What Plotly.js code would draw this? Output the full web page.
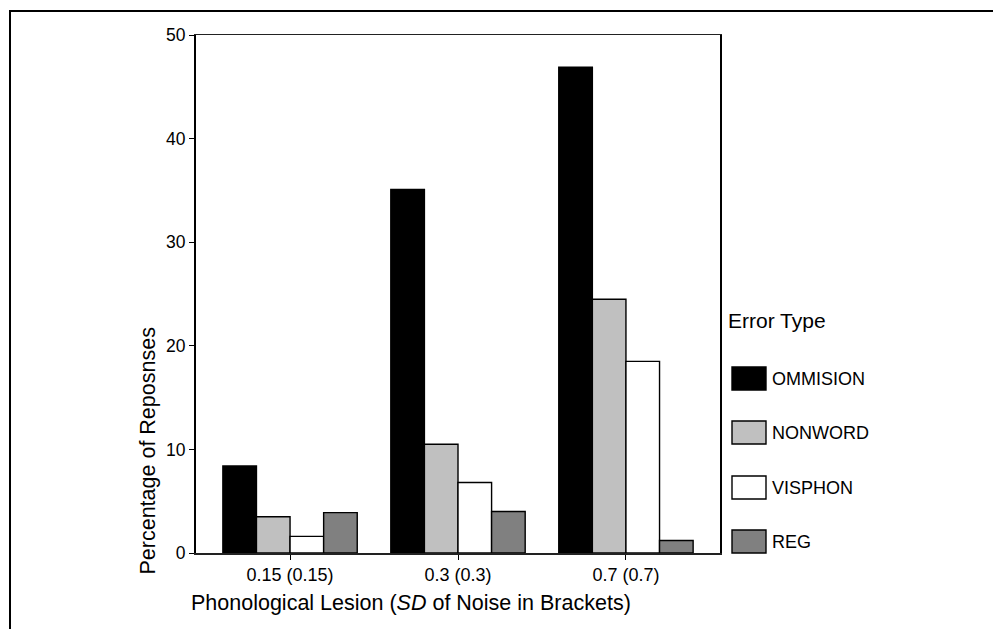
<!DOCTYPE html>
<html>
<head>
<meta charset="utf-8">
<script src="https://cdn.plot.ly/plotly-3.0.1.min.js"></script>
<style>html,body{margin:0;padding:0;background:#fff;}#chart{width:993px;height:629px;}</style>
</head>
<body>
<div id="chart"></div>
<script>
// ---- data ----
var categories = ["0.15 (0.15)", "0.3 (0.3)", "0.7 (0.7)"];
var seriesNames = ["OMMISION", "NONWORD", "VISPHON", "REG"];
var ommision = [8.4, 35.1, 46.9];
var nonword  = [3.5, 10.5, 24.5];
var visphon  = [1.6, 6.8, 18.5];
var reg      = [3.9, 4.0, 1.2];
var seriesColors = ["#000000", "#c0c0c0", "#ffffff", "#808080"];
var yTicks = [0, 10, 20, 30, 40, 50];
var legendTitle = "Error Type";
var xTitle = "Phonological Lesion (<i>SD</i> of Noise in Brackets)";
var yTitle = "Percentage of Reposnses";

var seriesValues = [ommision, nonword, visphon, reg];

// ---- layout geometry helpers (pixel -> paper) ----
var W = 993, H = 629;
var L = 196, R = 720, T = 35, B = 553;
function px(x) { return (x - L) / (R - L); }
function py(y) { return (B - y) / (B - T); }

var FONT = "Liberation Sans, Arial, sans-serif";

var traces = seriesNames.map(function (name, i) {
  return {
    type: "bar",
    name: name,
    x: categories,
    y: seriesValues[i],
    marker: { color: seriesColors[i], line: { color: "#000000", width: 1.4 } },
    showlegend: false,
    hoverinfo: "x+y+name"
  };
});

var shapes = [
  // outer frame
  { type: "rect", xref: "paper", yref: "paper",
    x0: px(10), x1: px(1010), y0: py(11), y1: py(660),
    line: { color: "#000", width: 2 }, fillcolor: "rgba(0,0,0,0)" }
];
var annotations = [
  { xref: "paper", yref: "paper", x: px(147.5), y: py(451), text: yTitle,
    textangle: -90, showarrow: false, font: { family: FONT, size: 21.5, color: "#000" },
    xanchor: "center", yanchor: "middle" },
  { xref: "paper", yref: "paper", x: px(411), y: py(603), text: xTitle,
    showarrow: false, font: { family: FONT, size: 21.5, color: "#000" },
    xanchor: "center", yanchor: "middle" },
  { xref: "paper", yref: "paper", x: px(726), y: py(320), text: legendTitle,
    showarrow: false, font: { family: FONT, size: 21, color: "#000" },
    xanchor: "left", yanchor: "middle" }
];
// custom legend built from series arrays
var legTop = [367, 421, 476, 530];
seriesNames.forEach(function (name, i) {
  shapes.push({ type: "rect", xref: "paper", yref: "paper",
    x0: px(732), x1: px(766), y0: py(legTop[i]), y1: py(legTop[i] + 23),
    fillcolor: seriesColors[i], line: { color: "#000", width: 1.4 } });
  annotations.push({ xref: "paper", yref: "paper", x: px(770), y: py(legTop[i] + 11.5),
    text: name, showarrow: false, font: { family: FONT, size: 18, color: "#000" },
    xanchor: "left", yanchor: "middle" });
});

var layout = {
  width: W, height: H,
  margin: { l: L, r: W - R, t: T, b: H - B, pad: 0 },
  paper_bgcolor: "#ffffff",
  plot_bgcolor: "#ffffff",
  font: { family: FONT, size: 17, color: "#000" },
  barmode: "group",
  bargap: 0.2,
  bargroupgap: 0,
  showlegend: false,
  xaxis: {
    type: "category",
    range: [-0.56, 2.56],
    showgrid: false, zeroline: false,
    showline: true, linecolor: "#222", linewidth: 1.5, mirror: true,
    ticks: "outside", ticklen: 5, tickwidth: 1, tickcolor: "#000",
    tickfont: { family: FONT, size: 18, color: "#000" },
    fixedrange: true
  },
  yaxis: {
    range: [0, 50],
    tickvals: yTicks,
    showgrid: false, zeroline: false,
    showline: true, linecolor: "#000", linewidth: 2, mirror: true,
    ticks: "outside", ticklen: 5, tickwidth: 1, tickcolor: "#000",
    tickfont: { family: FONT, size: 17.5, color: "#000" },
    fixedrange: true
  },
  shapes: shapes,
  annotations: annotations
};

Plotly.newPlot("chart", traces, layout, { displayModeBar: false, staticPlot: true });
</script>
</body>
</html>
